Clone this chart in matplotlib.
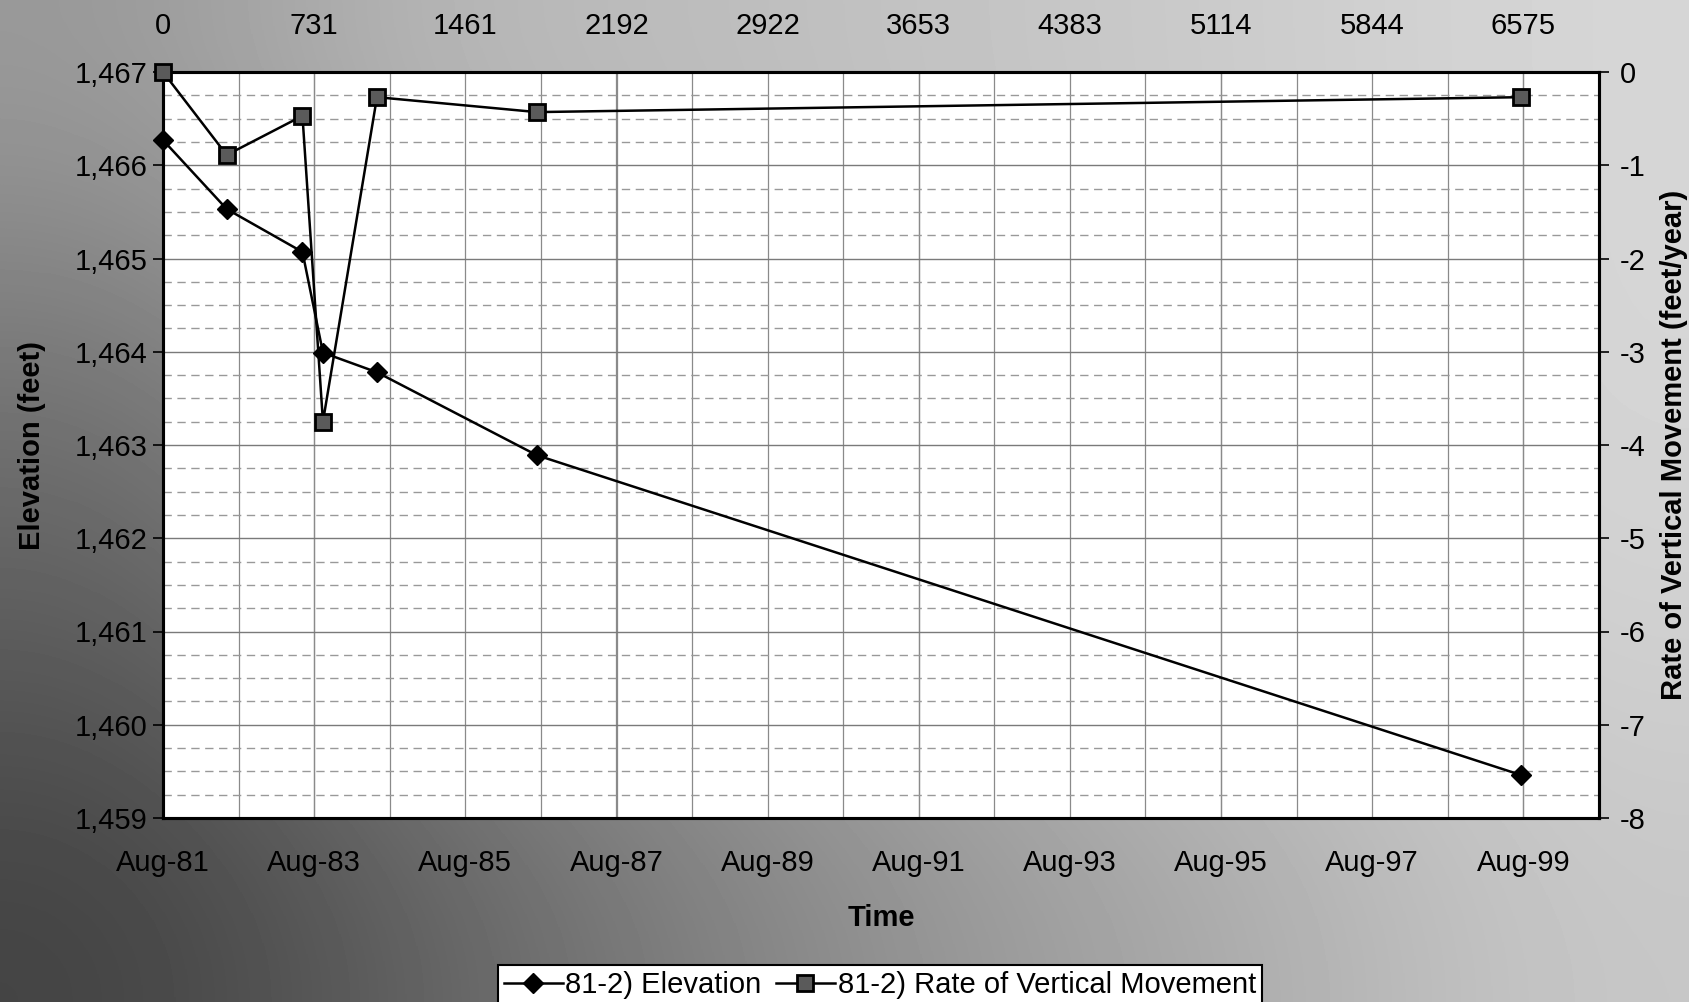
import numpy as np
import matplotlib
matplotlib.use("Agg")
import matplotlib.pyplot as plt
from matplotlib.ticker import MultipleLocator, FixedLocator, FuncFormatter
from matplotlib.lines import Line2D

plt.rcParams['font.family'] = ['Liberation Sans', 'DejaVu Sans']
plt.rcParams['axes.unicode_minus'] = False

# ---- data (days since Aug 1981) ----
days = [0, 308, 674, 773, 1034, 1807, 6564]
elevation = [1466.27, 1465.53, 1465.07, 1463.99, 1463.78, 1462.89, 1459.46]
rate = [0.0, -0.89, -0.47, -3.75, -0.27, -0.43, -0.27]

top_tick_vals = [0, 731, 1461, 2192, 2922, 3653, 4383, 5114, 5844, 6575]
bottom_tick_labels = ['Aug-81', 'Aug-83', 'Aug-85', 'Aug-87', 'Aug-89',
                      'Aug-91', 'Aug-93', 'Aug-95', 'Aug-97', 'Aug-99']
left_ticks = [1459, 1460, 1461, 1462, 1463, 1464, 1465, 1466, 1467]
right_ticks = [-8, -7, -6, -5, -4, -3, -2, -1, 0]

FS = 21
W, H = 1690, 1002
fig = plt.figure(figsize=(W / 100, H / 100), dpi=100)

# background gradient (scanned gray look)
bg = fig.add_axes([0, 0, 1, 1], zorder=-10)
grid_vals = np.array([
    [0.60, 0.72, 0.74, 0.77, 0.80, 0.84],
    [0.45, 0.62, 0.70, 0.75, 0.79, 0.84],
    [0.36, 0.52, 0.62, 0.70, 0.77, 0.82],
    [0.26, 0.38, 0.50, 0.60, 0.68, 0.78],
])
bg.imshow(grid_vals, cmap='gray', vmin=0, vmax=1, aspect='auto',
          interpolation='bicubic', extent=[0, 1, 0, 1])
bg.set_axis_off()

left, right, top, bottom = 163, 1599, 72, 818
ax = fig.add_axes([left / W, 1 - bottom / H, (right - left) / W, (bottom - top) / H])
ax.set_facecolor('white')

ax.plot(days, elevation, color='black', lw=1.8, marker='D', ms=10,
        mfc='black', mec='black', zorder=3, clip_on=False)
ax.set_ylim(1459, 1467)
ax.set_xlim(0, 6940)

ax2 = ax.twinx()
ax2.plot(days, rate, color='black', lw=1.8, marker='s', ms=12,
         mfc='#5a5a5a', mec='black', mew=2, zorder=3, clip_on=False)
ax2.set_ylim(-8, 0)

# grid
ax.yaxis.set_major_locator(FixedLocator(left_ticks))
ax.yaxis.set_minor_locator(MultipleLocator(0.25))
ax.xaxis.set_major_locator(FixedLocator(top_tick_vals))
ax.xaxis.set_minor_locator(MultipleLocator(365.25))
ax.grid(True, which='major', axis='y', color='#7a7a7a', lw=1.0, ls='-')
ax.grid(True, which='minor', axis='y', color='#999999', lw=1.0, ls=(0, (6, 4)))
ax.grid(True, which='both', axis='x', color='#8a8a8a', lw=0.9, ls='-')
ax.set_axisbelow(True)

ax.yaxis.set_major_formatter(FuncFormatter(lambda v, p: f"{int(v):,}"))
ax.set_xticklabels(bottom_tick_labels)
ax.tick_params(axis='x', which='both', length=0, pad=22, labelsize=FS)
ax.tick_params(axis='y', which='major', length=7, width=1.2, direction='out',
               pad=4, labelsize=FS)
ax.tick_params(axis='y', which='minor', length=0)

ax2.yaxis.set_major_locator(FixedLocator(right_ticks))
ax2.tick_params(axis='y', length=7, width=1.2, direction='out', pad=8, labelsize=FS)

sec = ax.secondary_xaxis('top')
sec.set_xticks(top_tick_vals)
sec.set_xticklabels([str(v) for v in top_tick_vals])
sec.tick_params(length=0, pad=23, labelsize=FS)
sec.spines['top'].set_visible(False)

for a in (ax, ax2):
    for s in a.spines.values():
        s.set_linewidth(2.2)
        s.set_color('black')

ax.set_ylabel('Elevation (feet)', fontsize=FS, fontweight='bold', labelpad=21)
ax2.set_ylabel('Rate of Vertical Movement (feet/year)', fontsize=FS,
               fontweight='bold', labelpad=10)
ax.set_xlabel('Time', fontsize=FS, fontweight='bold', labelpad=20)

handles = [
    Line2D([], [], color='black', lw=1.8, marker='D', ms=10, mfc='black', mec='black'),
    Line2D([], [], color='black', lw=1.8, marker='s', ms=12, mfc='#5a5a5a',
           mec='black', mew=2),
]
leg = fig.legend(handles, ['81-2) Elevation', '81-2) Rate of Vertical Movement'],
                 loc='upper center', bbox_to_anchor=(880 / W, 1 - 965 / H),
                 ncol=2, frameon=True, fancybox=False, edgecolor='black',
                 fontsize=FS, handlelength=2.0, handletextpad=0.1,
                 columnspacing=0.5, borderpad=0.2, borderaxespad=0)
leg.get_frame().set_linewidth(1.5)
leg.get_frame().set_facecolor('white')
leg.get_frame().set_alpha(1)

fig.savefig('out.png', dpi=100)
